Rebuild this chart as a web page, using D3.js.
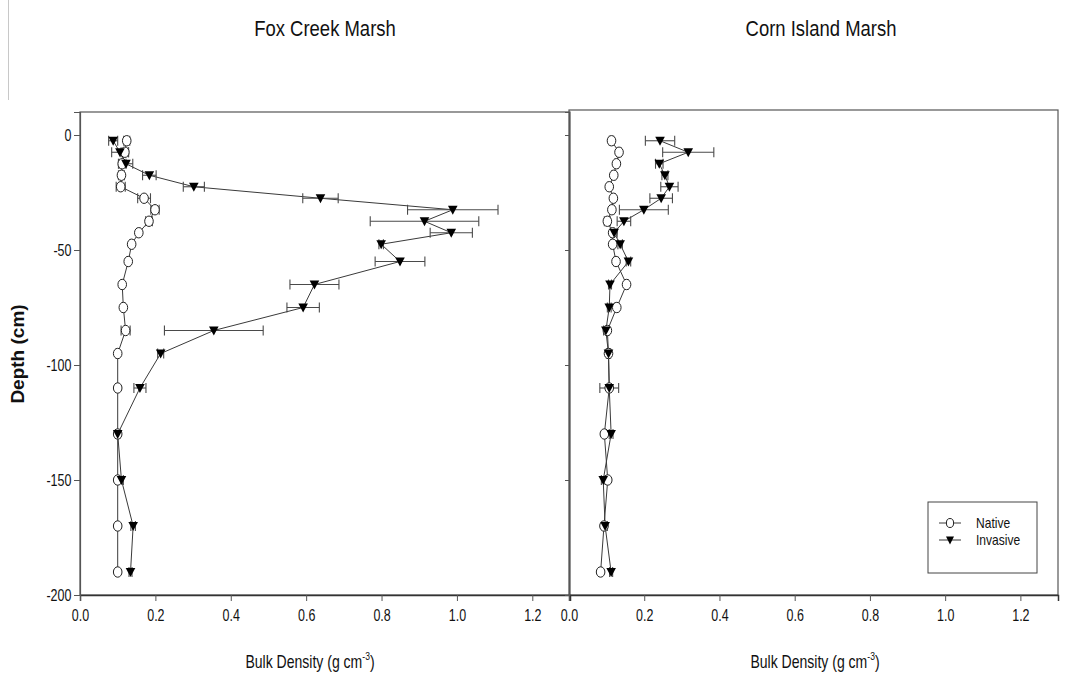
<!DOCTYPE html>
<html>
<head>
<meta charset="utf-8">
<script src="https://cdn.jsdelivr.net/npm/d3@7"></script>
<style>
  html, body { margin: 0; padding: 0; background: #fff; }
  svg { display: block; }
  text { font-family: "Liberation Sans", Arial, sans-serif; fill: #111; }
</style>
</head>
<body>
<svg id="chart" width="1066" height="681"></svg>
<script>
// Sampling depths (cm, negative = below surface)
const depths = [-2.5, -7.5, -12.5, -17.5, -22.5, -27.5, -32.5, -37.5, -42.5, -47.5,
                -55, -65, -75, -85, -95, -110, -130, -150, -170, -190];

// Fox Creek Marsh bulk density (g cm-3) and standard errors
const foxNative     = [0.124, 0.119, 0.112, 0.110, 0.108, 0.170, 0.199, 0.183, 0.156, 0.137,
                       0.128, 0.112, 0.115, 0.121, 0.100, 0.100, 0.100, 0.100, 0.100, 0.100];
const foxNativeErr  = [0.008, 0.010, 0.010, 0.008, 0.012, 0.017, 0.011, 0.009, 0.004, 0.004,
                       0.004, 0.004, 0.004, 0.012, 0.004, 0.004, 0.004, 0.003, 0.003, 0.003];
const foxInvasive   = [0.088, 0.106, 0.122, 0.184, 0.302, 0.638, 0.989, 0.914, 0.985, 0.799,
                       0.849, 0.622, 0.592, 0.355, 0.214, 0.159, 0.100, 0.110, 0.141, 0.134];
const foxInvasiveErr= [0.012, 0.022, 0.018, 0.018, 0.028, 0.047, 0.120, 0.144, 0.056, 0.006,
                       0.066, 0.065, 0.043, 0.131, 0.008, 0.016, 0.006, 0.005, 0.006, 0.004];

// Corn Island Marsh bulk density (g cm-3) and standard errors
const cornNative     = [0.113, 0.133, 0.126, 0.119, 0.107, 0.118, 0.114, 0.102, 0.116, 0.116,
                        0.125, 0.153, 0.127, 0.102, 0.105, 0.107, 0.094, 0.103, 0.093, 0.084];
const cornNativeErr  = [0.006, 0.005, 0.005, 0.005, 0.005, 0.005, 0.005, 0.008, 0.005, 0.005,
                        0.005, 0.005, 0.005, 0.005, 0.005, 0.005, 0.004, 0.004, 0.004, 0.004];
const cornInvasive   = [0.242, 0.317, 0.240, 0.255, 0.267, 0.245, 0.199, 0.146, 0.120, 0.136,
                        0.158, 0.109, 0.107, 0.098, 0.105, 0.107, 0.112, 0.091, 0.096, 0.112];
const cornInvasiveErr= [0.039, 0.068, 0.010, 0.008, 0.023, 0.030, 0.065, 0.018, 0.008, 0.006,
                        0.006, 0.004, 0.005, 0.006, 0.006, 0.025, 0.005, 0.005, 0.006, 0.004];

const xTicks = [0, 0.2, 0.4, 0.6, 0.8, 1.0, 1.2];
const yTicks = [0, -50, -100, -150, -200];
const seriesNames = ["Native", "Invasive"];

const svg = d3.select("#chart");
const lineColor = "#3a3a3a";
const SX = 0.78;   // horizontal squeeze for the condensed lettering

// Shared depth scale
const y = d3.scaleLinear().domain([-200, 10]).range([595, 112]);

// Condensed text helper: a group positioned at (x, y) and squeezed horizontally
function label(parent, x, yy, size, anchor, sx) {
  return parent.append("g")
    .attr("transform", `translate(${x},${yy}) scale(${sx},1)`)
    .append("text").attr("text-anchor", anchor).style("font-size", size + "px");
}

// Faint page rule at the far left
svg.append("line").attr("x1", 8.5).attr("x2", 8.5).attr("y1", 0).attr("y2", 100)
   .attr("stroke", "#c8c8c8").attr("stroke-width", 1);

const panels = [
  { title: "Fox Creek Marsh", titleX: 325, axisTitleX: 310,
    x: d3.scaleLinear().domain([0, 1.3]).range([80, 570]),
    native: foxNative, nativeErr: foxNativeErr, inv: foxInvasive, invErr: foxInvasiveErr,
    yLabels: true, frameTop: y(10), legend: false },
  { title: "Corn Island Marsh", titleX: 821, axisTitleX: 815,
    x: d3.scaleLinear().domain([0, 1.3]).range([569, 1058]),
    native: cornNative, nativeErr: cornNativeErr, inv: cornInvasive, invErr: cornInvasiveErr,
    yLabels: false, frameTop: 110, legend: true }
];

const triPath = "M-4.8,-4 L4.8,-4 L0,5 Z";

function drawSeries(g, x, vals, errs) {
  const pts = depths.map((d, i) => ({ d, v: vals[i], e: errs[i] }));
  g.append("path")
    .datum(pts)
    .attr("fill", "none")
    .attr("stroke", lineColor)
    .attr("stroke-width", 1)
    .attr("d", d3.line().x(p => x(p.v)).y(p => y(p.d)));
  const eb = g.append("g").attr("stroke", "#4a4a4a").attr("stroke-width", 1.1).attr("fill", "none");
  pts.forEach(p => {
    const x0 = x(p.v - p.e), x1 = x(p.v + p.e), yy = y(p.d);
    eb.append("line").attr("x1", x0).attr("x2", x1).attr("y1", yy).attr("y2", yy);
    eb.append("line").attr("x1", x0).attr("x2", x0).attr("y1", yy - 5).attr("y2", yy + 5);
    eb.append("line").attr("x1", x1).attr("x2", x1).attr("y1", yy - 5).attr("y2", yy + 5);
  });
  return pts;
}

function drawMarkers(g, x, pts, kind) {
  if (kind === "native") {
    g.selectAll(null).data(pts).enter().append("ellipse")
      .attr("cx", p => x(p.v)).attr("cy", p => y(p.d))
      .attr("rx", 4.3).attr("ry", 5.2)
      .attr("fill", "#fff").attr("stroke", "#222").attr("stroke-width", 1);
  } else {
    g.selectAll(null).data(pts).enter().append("path")
      .attr("transform", p => `translate(${x(p.v)},${y(p.d)})`)
      .attr("d", triPath).attr("fill", "#000");
  }
}

panels.forEach(p => {
  const g = svg.append("g");
  const x = p.x;
  const [xl, xr] = x.range();

  // frame
  g.append("rect").attr("x", xl).attr("y", p.frameTop)
    .attr("width", xr - xl).attr("height", 595 - p.frameTop)
    .attr("fill", "none").attr("stroke", "#555").attr("stroke-width", 1.2);

  // x axis
  const xa = g.append("g").attr("transform", "translate(0,595)")
    .call(d3.axisBottom(x).tickValues(xTicks).tickFormat(d3.format(".1f")).tickSize(6).tickPadding(9));
  xa.select(".domain").attr("stroke", "#333").attr("stroke-width", 1.5);
  xa.selectAll(".tick line").attr("stroke", "#555");
  xa.selectAll("text").style("font-size", "16px").attr("fill", "#111")
    .attr("transform", `scale(${SX},1)`);

  // y axis
  const ya = g.append("g").attr("transform", `translate(${xl},0)`)
    .call(d3.axisLeft(y).tickValues(yTicks).tickSize(p.yLabels ? 6 : 4).tickPadding(5)
      .tickFormat(p.yLabels ? (d => String(d)) : () => ""));
  ya.select(".domain").attr("stroke", "#555").attr("stroke-width", 1.2);
  ya.selectAll(".tick line").attr("stroke", "#555");
  ya.selectAll("text").style("font-size", "16px").attr("fill", "#111")
    .attr("transform", `scale(${SX},1)`);

  // panel title
  label(g, p.titleX, 36, 22, "middle", 0.84).text(p.title);

  // x axis title with superscript
  const t = label(g, p.axisTitleX, 668, 18, "middle", SX);
  t.append("tspan").text("Bulk Density (g cm");
  t.append("tspan").attr("dy", -8).style("font-size", "11px").text("-3");
  t.append("tspan").attr("dy", 8).text(")");

  const lines = g.append("g");
  const nPts = drawSeries(lines, x, p.native, p.nativeErr);
  const iPts = drawSeries(lines, x, p.inv, p.invErr);
  drawMarkers(g, x, nPts, "native");
  drawMarkers(g, x, iPts, "invasive");

  if (p.legend) {
    const lg = g.append("g");
    lg.append("rect").attr("x", 928).attr("y", 502).attr("width", 109).attr("height", 71)
      .attr("fill", "#fff").attr("stroke", "#444").attr("stroke-width", 1);
    seriesNames.forEach((name, i) => {
      const yy = 523 + i * 17;
      lg.append("line").attr("x1", 939).attr("x2", 961).attr("y1", yy).attr("y2", yy)
        .attr("stroke", lineColor).attr("stroke-width", 1);
      if (i === 0) {
        lg.append("ellipse").attr("cx", 950).attr("cy", yy).attr("rx", 3.6).attr("ry", 4.5)
          .attr("fill", "#fff").attr("stroke", "#222");
      } else {
        lg.append("path").attr("transform", `translate(950,${yy})`)
          .attr("d", "M-4,-3.5 L4,-3.5 L0,4.5 Z").attr("fill", "#000");
      }
      label(lg, 976, yy + 5, 14, "start", 0.86).text(name);
    });
  }
});

// shared depth label
svg.append("g").attr("transform", "translate(24,354) rotate(-90)")
  .append("text")
  .attr("text-anchor", "middle")
  .style("font-size", "19px").style("font-weight", "bold")
  .text("Depth (cm)");
</script>
</body>
</html>
